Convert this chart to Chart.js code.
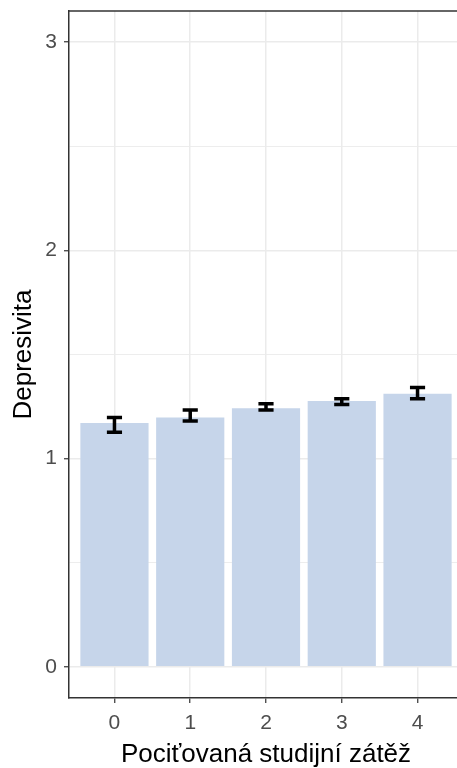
<!DOCTYPE html>
<html>
<head>
<meta charset="utf-8">
<script src="https://cdn.jsdelivr.net/npm/chart.js@4/dist/chart.umd.min.js"></script>
<style>
    html, body { margin: 0; padding: 0; background: #fff; overflow: hidden; }
    #wrap { width: 457px; height: 768px; overflow: hidden; }
</style>
</head>
<body>
<div id="wrap">
    <canvas id="chart" width="463" height="768"></canvas>
</div>
<script>
// data
const categories = ['0', '1', '2', '3', '4'];
const means = [1.171, 1.197, 1.242, 1.277, 1.312];
const ciLower = [1.126, 1.180, 1.234, 1.260, 1.288];
const ciUpper = [1.197, 1.234, 1.263, 1.288, 1.341];
const yMajorTicks = [0, 1, 2, 3];
const yMinorTicks = [0.5, 1.5, 2.5];

const xTitle = 'Pociťovaná studijní zátěž';
const yTitle = 'Depresivita';

const FONT = "'Liberation Sans', Arial, sans-serif";
const GRID = '#ebebeb';
const INK = '#333333';

// error bars + top panel border
const errorBarPlugin = {
    id: 'errorBars',
    afterDatasetsDraw(chart) {
        const ctx = chart.ctx;
        const xs = chart.scales.x;
        const ys = chart.scales.y;
        const half = 0.1 * (xs.getPixelForValue(1) - xs.getPixelForValue(0));
        ctx.save();
        ctx.strokeStyle = '#000';
        ctx.lineWidth = 3.5;
        ctx.lineCap = 'butt';
        categories.forEach((c, i) => {
            const x = xs.getPixelForValue(i);
            const yHi = ys.getPixelForValue(ciUpper[i]);
            const yLo = ys.getPixelForValue(ciLower[i]);
            ctx.beginPath();
            ctx.moveTo(x - half, yHi); ctx.lineTo(x + half, yHi);
            ctx.moveTo(x, yHi); ctx.lineTo(x, yLo);
            ctx.moveTo(x - half, yLo); ctx.lineTo(x + half, yLo);
            ctx.stroke();
        });
        ctx.restore();
    },
    afterDraw(chart) {
        const a = chart.chartArea;
        const ctx = chart.ctx;
        ctx.save();
        ctx.strokeStyle = INK;
        ctx.lineWidth = 1.5;
        ctx.beginPath();
        ctx.moveTo(a.left - 0.75, a.top);
        ctx.lineTo(a.right, a.top);
        ctx.stroke();
        ctx.restore();
    }
};

const isMajor = v => yMajorTicks.includes(v);

new Chart(document.getElementById('chart').getContext('2d'), {
    type: 'bar',
    data: {
        datasets: [{
            data: categories.map((c, i) => ({ x: i, y: means[i] })),
            backgroundColor: 'rgb(198, 213, 234)',
            borderWidth: 0,
            barPercentage: 0.9,
            categoryPercentage: 1
        }]
    },
    options: {
        responsive: false,
        animation: false,
        layout: { padding: { top: 11, right: 0, bottom: 0, left: 0 } },
        plugins: {
            legend: { display: false },
            tooltip: { enabled: false }
        },
        scales: {
            x: {
                type: 'linear',
                min: -0.6,
                max: 4.6,
                offset: false,
                afterBuildTicks: scale => {
                    scale.ticks = categories.map((c, i) => ({ value: i }));
                },
                afterFit: scale => {
                    scale.height = 70;
                    scale.paddingLeft = 0;
                    scale.paddingRight = 0;
                },
                ticks: {
                    callback: v => categories[v],
                    color: '#4d4d4d',
                    font: { family: FONT, size: 21 },
                    padding: 8,
                    maxRotation: 0,
                    autoSkip: false
                },
                grid: {
                    offset: false,
                    color: GRID,
                    lineWidth: 1.5,
                    tickColor: INK,
                    tickLength: 5,
                    tickWidth: 1.2
                },
                border: { display: true, color: INK, width: 1.5 },
                title: {
                    display: true,
                    text: xTitle,
                    color: '#000',
                    font: { family: FONT, size: 26, lineHeight: 1 },
                    padding: { top: 0, bottom: 0 }
                }
            },
            y: {
                min: -0.15,
                max: 3.15,
                afterBuildTicks: scale => {
                    scale.ticks = yMajorTicks.concat(yMinorTicks)
                        .sort((a, b) => a - b)
                        .map(v => ({ value: v }));
                },
                afterFit: scale => {
                    scale.width = 69;
                    scale.paddingTop = 0;
                    scale.paddingBottom = 0;
                },
                ticks: {
                    callback: v => isMajor(v) ? String(v) : '',
                    color: '#4d4d4d',
                    font: { family: FONT, size: 21 },
                    padding: 7
                },
                grid: {
                    color: GRID,
                    lineWidth: c => isMajor(c.tick.value) ? 1.5 : 0.9,
                    tickColor: c => isMajor(c.tick.value) ? INK : 'rgba(0,0,0,0)',
                    tickLength: 5,
                    tickWidth: 1.2
                },
                border: { display: true, color: INK, width: 1.5 },
                title: {
                    display: true,
                    text: yTitle,
                    color: '#000',
                    font: { family: FONT, size: 26, lineHeight: 1 },
                    padding: { top: 11, bottom: 0 }
                }
            }
        }
    },
    plugins: [errorBarPlugin]
});
</script>
</body>
</html>
